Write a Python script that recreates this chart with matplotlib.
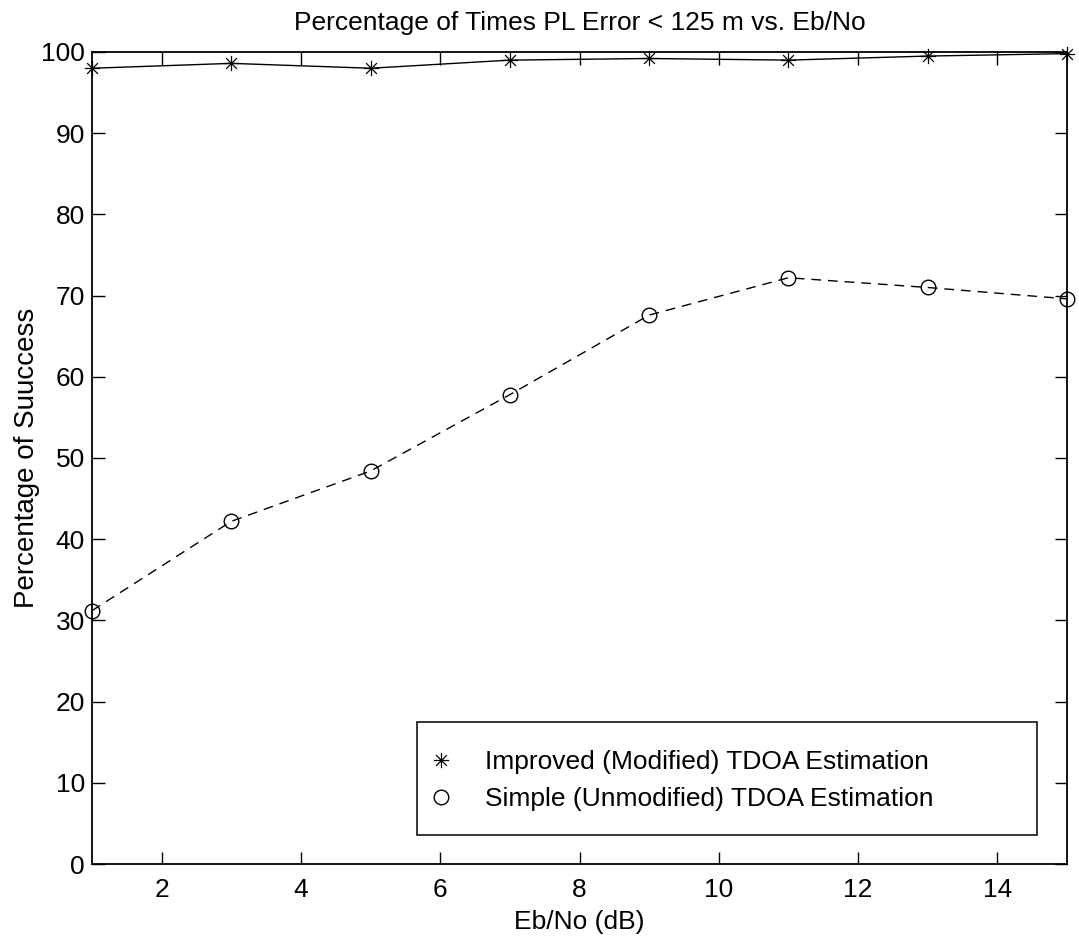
import matplotlib
matplotlib.use('Agg')
import matplotlib.pyplot as plt
from matplotlib.path import Path
from matplotlib.patches import Rectangle

plt.rcParams['font.family'] = ['Liberation Sans', 'DejaVu Sans']

ebno = [1, 3, 5, 7, 9, 11, 13, 15]
improved = [98.0, 98.6, 98.0, 99.0, 99.2, 99.0, 99.5, 99.8]
simple = [31.2, 42.2, 48.4, 57.8, 67.6, 72.2, 71.0, 69.6]

# matlab-like asterisk: + and x together
d = 0.7071
star = Path([(-1, 0), (1, 0), (0, -1), (0, 1), (-d, -d), (d, d), (-d, d), (d, -d)],
            [Path.MOVETO, Path.LINETO] * 4)

fig = plt.figure(figsize=(10.79, 9.39), dpi=100)
ax = fig.add_axes([92/1079, 1 - 864/939, 975/1079, 812/939])

ax.plot(ebno, improved, color='black', linestyle='-', linewidth=1,
        marker=star, markersize=11, markeredgewidth=0.9, clip_on=False)
ax.plot(ebno, simple, color='black', linestyle=(0, (7, 5)), linewidth=1,
        marker='o', markersize=10.5, markeredgewidth=1, markerfacecolor='none',
        clip_on=False)

# matlab style legend box, drawn separately so it can be wide
box = Rectangle((0.3333, 0.036), 0.636, 0.139, transform=ax.transAxes,
                facecolor='white', edgecolor='black', linewidth=1.1, zorder=4)
ax.add_patch(box)

h1, = ax.plot([], [], color='black', linestyle='none', marker=star, markersize=11,
              markeredgewidth=0.9)
h2, = ax.plot([], [], color='black', linestyle='none', marker='o', markersize=10.5,
              markerfacecolor='none')
leg = ax.legend([h1, h2], ['Improved (Modified) TDOA Estimation',
                           'Simple (Unmodified) TDOA Estimation'],
                loc='upper left', bbox_to_anchor=(0.3497, 0.1405), fontsize=19,
                frameon=False, borderpad=0, labelspacing=0.49, handlelength=0.6,
                handletextpad=1.36, borderaxespad=0)
leg.set_zorder(5)

ax.set_xlim(1, 15)
ax.set_ylim(0, 100)
ax.set_xticks([2, 4, 6, 8, 10, 12, 14])
ax.set_yticks(range(0, 101, 10))
ax.tick_params(direction='in', length=9, width=1, top=True, right=True,
               labelsize=19, pad=5)
ax.tick_params(axis='x', pad=10)
for s in ax.spines.values():
    s.set_linewidth(1.3)

ax.set_xlabel('Eb/No (dB)', fontsize=19, labelpad=6)
ax.set_ylabel('Percentage of Suuccess', fontsize=20, labelpad=1)
ax.set_title('Percentage of Times PL Error < 125 m vs. Eb/No', fontsize=19, pad=16)

fig.savefig('out.png', dpi=100)
